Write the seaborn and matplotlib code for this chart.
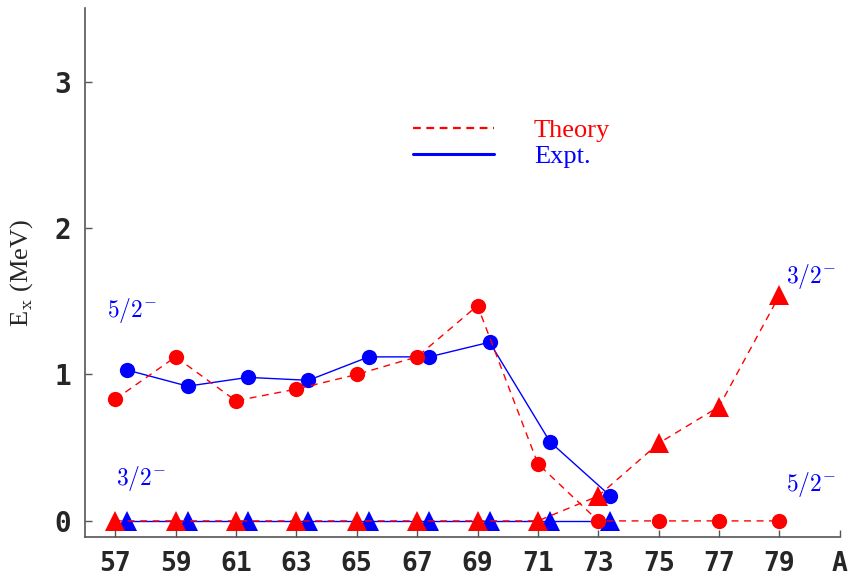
import pandas as pd
import seaborn as sns
import matplotlib.pyplot as plt

sns.set_style('ticks')
plt.rcParams['mathtext.fontset'] = 'cm'

# mass numbers
A_th = [57, 59, 61, 63, 65, 67, 69, 71, 73, 75, 77, 79]
A_ex = [57.4, 59.4, 61.4, 63.4, 65.4, 67.4, 69.4, 71.4, 73.4]

# theory: 5/2- (circles) and 3/2- (triangles)
th_52 = [0.83, 1.12, 0.82, 0.90, 1.00, 1.12, 1.47, 0.39, 0.0, 0.0, 0.0, 0.0]
th_32 = [0.0, 0.0, 0.0, 0.0, 0.0, 0.0, 0.0, 0.0, 0.17, 0.53, 0.78, 1.54]
# experiment
ex_52 = [1.03, 0.92, 0.98, 0.96, 1.12, 1.12, 1.22, 0.54, 0.17]
ex_32 = [0.0, 0.0, 0.0, 0.0, 0.0, 0.0, 0.0, 0.0, 0.0]

xticks = [57, 59, 61, 63, 65, 67, 69, 71, 73, 75, 77, 79, 81]
xticklabels = ['57', '59', '61', '63', '65', '67', '69', '71', '73', '75', '77', '79', 'A']

df_th = pd.DataFrame({'A': A_th, 'c52': th_52, 'c32': th_32})
df_ex = pd.DataFrame({'A': A_ex, 'c52': ex_52, 'c32': ex_32})

fig = plt.figure(figsize=(8.53, 5.81), dpi=100)
ax = fig.add_axes([0.0996, 0.0757, 0.885, 0.91])

red = '#ff0000'
blue = '#0000ff'

sns.lineplot(data=df_ex, x='A', y='c32', ax=ax, color=blue, lw=1, marker='^',
             markersize=14, markeredgewidth=0, sort=False, zorder=2)
sns.lineplot(data=df_th, x='A', y='c32', ax=ax, color=red, lw=1, ls=(0, (5, 4)),
             marker='^', markersize=14, markeredgewidth=0, sort=False, zorder=3)
sns.lineplot(data=df_ex, x='A', y='c52', ax=ax, color=blue, lw=1, marker='o',
             markersize=11, markeredgewidth=0, sort=False, zorder=2)
sns.lineplot(data=df_th, x='A', y='c52', ax=ax, color=red, lw=1, ls=(0, (5, 4)),
             marker='o', markersize=11, markeredgewidth=0, sort=False, zorder=3)

ax.set_xlim(56, 81)
ax.set_ylim(-0.11, 3.5)
ax.set_xticks(xticks)
ax.set_xticklabels(xticklabels, fontfamily='DejaVu Sans Mono', fontweight='bold', fontsize=19)
ax.set_yticks([0, 1, 2, 3])
ax.set_yticklabels(['0', '1', '2', '3'], fontfamily='DejaVu Sans Mono', fontweight='bold', fontsize=20)
ax.tick_params(direction='in', length=5, width=1, color='#555555')
ax.tick_params(axis='x', pad=10)
ax.tick_params(axis='y', pad=10)
sns.despine(ax=ax)
for s in ['left', 'bottom']:
    ax.spines[s].set_color('#555555')
    ax.spines[s].set_linewidth(1.2)

ax.set_xlabel('')
ax.set_ylabel(r'E$_{\rm x}$ (MeV)', fontfamily='Liberation Serif', fontsize=19, labelpad=14)

# state labels
ax.text(57.55, 1.44, r'$5/2^{-}$', color=blue, fontsize=17, ha='center', va='center')
ax.text(57.85, 0.29, r'$3/2^{-}$', color=blue, fontsize=17, ha='center', va='center')
ax.text(80.05, 1.67, r'$3/2^{-}$', color=blue, fontsize=17, ha='center', va='center')
ax.text(80.05, 0.25, r'$5/2^{-}$', color=blue, fontsize=17, ha='center', va='center')

h1 = plt.Line2D([], [], color=red, lw=1.6, ls=(0, (3.5, 2.5)))
h2 = plt.Line2D([], [], color=blue, lw=2.2)
leg = ax.legend([h1, h2], ['Theory', 'Expt.'], loc='center', bbox_to_anchor=(0.565, 0.745),
                frameon=False, handlelength=3.1, handletextpad=1.5, labelspacing=0.1,
                prop={'family': 'Liberation Serif', 'size': 19})
leg.get_texts()[0].set_color(red)
leg.get_texts()[1].set_color(blue)

plt.savefig('out.png', dpi=100)
